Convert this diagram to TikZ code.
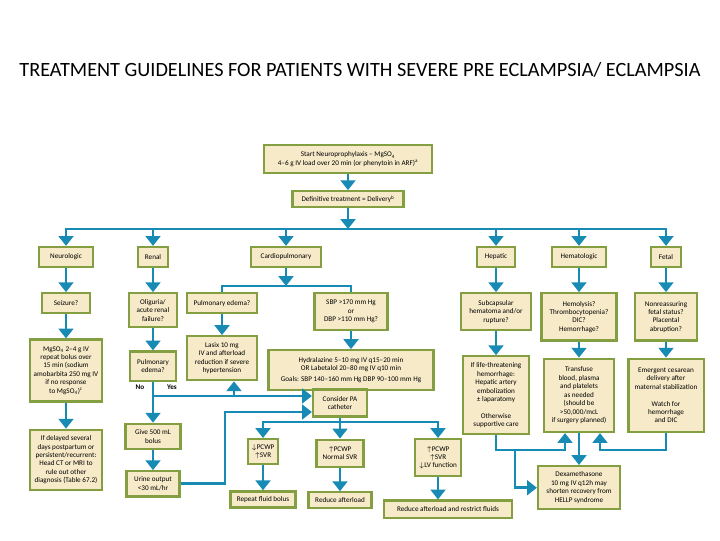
\documentclass[tikz,border=0pt]{standalone}
\usepackage{fontspec}
\setmainfont{Carlito}
\usepackage{xcolor}
\usetikzlibrary{arrows.meta,positioning}
\definecolor{boxfill}{RGB}{246,234,200}
\definecolor{boxline}{RGB}{132,158,66}
\definecolor{flow}{RGB}{24,139,181}
\newcommand{\boxfont}{\fontsize{5.1}{6}\selectfont}

\begin{document}
\begin{tikzpicture}[
    x=0.025cm, y=-0.025cm,
    node distance=0.6cm,
    box/.style={draw=boxline, fill=boxfill, line width=1.6pt, align=center, inner sep=1pt, font=\boxfont, minimum height=0.5cm},
    lbl/.style={font=\boxfont\bfseries, inner sep=0pt},
    arrow/.style={-{Triangle[width=10.5pt, length=7pt]}, draw=flow, line width=2.1pt},
    link/.style={draw=flow, line width=2.1pt}
  ]
    \fill[white] (0,0) rectangle (720,540);
    \useasboundingbox (0,0) rectangle (720,540);
    \node[font=\fontsize{14.4}{16}\selectfont] (title) at (360,70) {TREATMENT GUIDELINES FOR PATIENTS WITH SEVERE PRE ECLAMPSIA/ ECLAMPSIA};

    \node[box, minimum width=4.2cm, minimum height=0.7cm] (start) at (348,159) {Start Neuroprophylaxis – MgSO\textsubscript{4}\\4–6 g IV load over 20 min (or phenytoin in ARF)\textsuperscript{a}};
    \node[box, below=0.4cm of start, minimum width=2.78cm, minimum height=0.4cm] (deliv) {Definitive treatment = Delivery\textsuperscript{b}};

    \node[box, minimum width=1.35cm] (neuro) at (66,257) {Neurologic};
    \node[box, minimum width=0.75cm] (renal) at (153,257) {Renal};
    \node[box, minimum width=1.75cm] (cardio) at (286,257) {Cardiopulmonary};
    \node[box, minimum width=0.95cm] (hepatic) at (496,257) {Hepatic};
    \node[box, minimum width=1.35cm] (hemato) at (579,257) {Hematologic};
    \node[box, minimum width=0.75cm] (fetal) at (666,257) {Fetal};

    \node[box, below=of neuro, minimum width=1.2cm] (seizure) {Seizure?};
    \node[box, below=of seizure, minimum width=1.8cm, minimum height=1.55cm] (mgso) {MgSO\textsubscript{4} 2–4 g IV\\repeat bolus over\\15 min (sodium\\amobarbita 250 mg IV\\if no response\\to MgSO\textsubscript{4})\textsuperscript{c}};
    \node[box, below=0.65cm of mgso, minimum width=1.8cm, minimum height=1.5cm] (delayed) {If delayed several\\days postpartum or\\persistent/recurrent:\\Head CT or MRI to\\rule out other\\diagnosis (Table 67.2)};

    \node[box, below=of renal, minimum width=1.2cm, minimum height=0.85cm] (oliguria) {Oliguria/\\acute renal\\failure?};
    \node[box, below=0.55cm of oliguria, minimum width=1.15cm, minimum height=0.73cm] (pedema) {Pulmonary\\edema?};
    \node[box, below=1.02cm of pedema, minimum width=1.38cm, minimum height=0.63cm] (bolus) {Give 500 mL\\bolus};
    \node[box, below=0.5cm of bolus, minimum width=1.33cm, minimum height=0.63cm] (urine) {Urine output\\<30 mL/hr};

    \node[box, anchor=north, minimum width=1.75cm] (pulm) at (222,292) {Pulmonary edema?};
    \node[box, below=0.52cm of pulm, minimum width=1.75cm, minimum height=1.1cm] (lasix) {Lasix 10 mg\\IV and afterload\\reduction if severe\\hypertension};
    \node[box, anchor=north, minimum width=1.82cm, minimum height=0.92cm] (sbp) at (351,292) {SBP >170 mm Hg\\or\\DBP >110 mm Hg?};
    \node[box, below=0.45cm of sbp, minimum width=4.12cm, minimum height=1cm] (hydral) {Hydralazine 5–10 mg IV q15–20 min\\OR Labetalol 20–80 mg IV q10 min\\[2pt]Goals: SBP 140–160 mm Hg DBP 90–100 mm Hg};

    \node[box, minimum width=1.35cm, minimum height=0.68cm] (pa) at (340,403) {Consider PA\\catheter};
    \node[box, anchor=north, minimum width=0.75cm, minimum height=0.63cm] (pcw1) at (263,438) {$\downarrow$PCWP\\$\uparrow$SVR};
    \node[box, below=0.52cm of pa, minimum width=1.18cm, minimum height=0.68cm] (pcw2) {$\uparrow$PCWP\\Normal SVR};
    \node[box, anchor=north, minimum width=1.15cm, minimum height=0.93cm] (pcw3) at (438,438) {$\uparrow$PCWP\\$\uparrow$SVR\\$\downarrow$LV function};
    \node[box, below=0.62cm of pcw1, minimum width=1.62cm, minimum height=0.4cm] (repeat) {Repeat fluid bolus};
    \node[box, below=0.58cm of pcw2, minimum width=1.58cm, minimum height=0.4cm] (reduce) {Reduce afterload};
    \node[box, below=0.55cm of pcw3, xshift=0.25cm, minimum width=3.2cm, minimum height=0.43cm] (restrict) {Reduce afterload and restrict fluids};

    \node[box, below=of hepatic, minimum width=1.75cm, minimum height=0.92cm] (subcap) {Subcapsular\\hematoma and/or\\rupture?};
    \node[box, below=of subcap, minimum width=1.65cm, minimum height=1.95cm] (lifethr) {If life-threatening\\hemorrhage:\\Hepatic artery\\embolization\\± laparatomy\\[6pt]Otherwise\\supportive care};
    \node[box, below=of hemato, minimum width=1.88cm, minimum height=1.18cm] (hemol) {Hemolysis?\\Thrombocytopenia?\\DIC?\\Hemorrhage?};
    \node[box, below=0.4cm of hemol, minimum width=1.75cm, minimum height=1.83cm] (transf) {Transfuse\\blood, plasma\\and platelets\\as needed\\(should be\\>50,000/mcL\\if surgery planned)};
    \node[box, below=of fetal, minimum width=1.55cm, minimum height=1.18cm] (nonreas) {Nonreassuring\\fetal status?\\Placental\\abruption?};
    \node[box, below=0.4cm of nonreas, minimum width=1.88cm, minimum height=1.83cm] (emerg) {Emergent cesarean\\delivery after\\maternal stabilization\\[6pt]Watch for\\hemorrhage\\and DIC};
    \node[box, anchor=north, minimum width=2.05cm, minimum height=1.08cm] (dexa) at (579,465) {Dexamethasone\\10 mg IV q12h may\\shorten recovery from\\HELLP syndrome};

    \node[lbl] (no) at (140,387) {No};
    \node[lbl] (yes) at (172,387) {Yes};

    \coordinate (bus) at (348,229);
    \coordinate (cbus) at (286,286);
    \coordinate (ybus) at (153,396);
    \coordinate (yup) at (234,396);
    \coordinate (ubend) at (225,412);
    \coordinate (pbus) at (340,422);
    \coordinate (hl) at (565,450);
    \coordinate (hj) at (515,450);
    \coordinate (fl) at (600,450);

    \draw[arrow] (start) -- (deliv);
    \draw[arrow] (deliv) -- (bus);
    \draw[link, line cap=rect] (neuro |- bus) -- (fetal |- bus);
    \foreach \n in {neuro,renal,cardio,hepatic,hemato,fetal}
      \draw[arrow] (\n |- bus) -- (\n);

    \draw[arrow] (neuro) -- (seizure);
    \draw[arrow] (seizure) -- (mgso);
    \draw[arrow] (mgso) -- (delayed);

    \draw[arrow] (renal) -- (oliguria);
    \draw[arrow] (oliguria) -- (pedema);
    \draw[arrow] (pedema) -- (bolus);
    \draw[arrow] (ybus) -- (ybus -| pa.west);
    \draw[arrow] (yup) -- (yup |- lasix.south);
    \draw[arrow] (bolus) -- (urine);
    \draw[arrow] (urine) -| (ubend) -- (ubend -| pa.west);

    \draw[arrow] (cardio) -- (cbus);
    \draw[link] (pulm.north) -- (pulm.north |- cbus) -- (sbp.north |- cbus) -- (sbp.north);
    \draw[arrow] (pulm) -- (lasix);
    \draw[arrow] (sbp) -- (sbp |- hydral.north);

    \draw[link] (pa) -- (pbus);
    \draw[link, line cap=rect] (pcw1 |- pbus) -- (pcw3 |- pbus);
    \foreach \n in {pcw1,pcw2,pcw3}
      \draw[arrow] (\n |- pbus) -- (\n);
    \draw[arrow] (pcw1) -- (repeat);
    \draw[arrow] (pcw2) -- (reduce);
    \draw[arrow] (pcw3) -- (pcw3 |- restrict.north);

    \draw[arrow] (hepatic) -- (subcap);
    \draw[arrow] (subcap) -- (lifethr);
    \draw[arrow] (hemato) -- (hemol);
    \draw[arrow] (hemol) -- (transf);
    \draw[arrow] (fetal) -- (nonreas);
    \draw[arrow] (nonreas) -- (emerg);
    \draw[arrow] (lifethr) |- (hl) -- (hl |- transf.south);
    \draw[arrow] (hj) |- (dexa);
    \draw[arrow] (transf) -- (dexa);
    \draw[arrow] (emerg) |- (fl) -- (fl |- transf.south);
  \end{tikzpicture}
\end{document}
